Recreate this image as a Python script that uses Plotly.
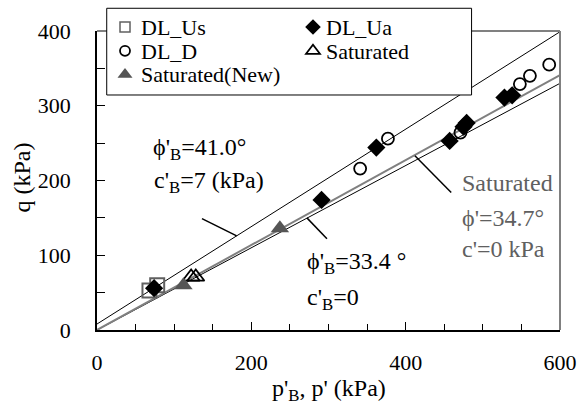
import plotly.graph_objects as go

# ---- data ----
dl_us_p = [68, 78]
dl_us_q = [53, 60]

dl_ua_p = [74, 291, 362, 457, 475, 479, 528, 538]
dl_ua_q = [56, 174, 244, 253, 272, 277, 311, 314]

dl_d_p = [341, 377, 471, 548, 561, 586]
dl_d_q = [216, 256, 264, 329, 340, 355]

sat_p = [122, 128]
sat_q = [71, 71]

satnew_p = [112, 237]
satnew_q = [60, 136]

# fitted lines (end points)
line_p = [0, 600]
fit41_q = [8, 399]        # phi'B=41.0, c'B=7
fit334_q = [0, 330]       # phi'B=33.4, c'B=0
fitsat_q = [0, 341]       # saturated phi'=34.7, c'=0

# leader lines
lead41_p = [136, 181]
lead41_q = [149, 126]
leadsat_p = [412, 459]
leadsat_q = [233, 184]
lead334_p = [272, 298]
lead334_q = [150, 122]

# legend entries per column
leg_col1 = ["DL_Us", "DL_D", "Saturated(New)"]
leg_col2 = ["DL_Ua", "Saturated"]

FONT = "Times New Roman, Liberation Serif, DejaVu Serif, serif"
GRAY = "#808080"
DGRAY = "#606060"

styles = {
    "DL_Us": dict(symbol="square-open", size=14, color=DGRAY, line=dict(width=2, color=DGRAY)),
    "DL_Ua": dict(symbol="diamond", size=14, color="black"),
    "DL_D": dict(symbol="circle-open", size=12, color="black", line=dict(width=1.8, color="black")),
    "Saturated": dict(symbol="triangle-up-open", size=15, color="black", line=dict(width=1.8, color="black")),
    "Saturated(New)": dict(symbol="triangle-up", size=16, color="#555555"),
}
leg_styles = {
    "DL_Us": dict(symbol="square-open", size=10, color=DGRAY, line=dict(width=1.5, color=DGRAY)),
    "DL_Ua": dict(symbol="diamond", size=12, color="black"),
    "DL_D": dict(symbol="circle-open", size=10, color="black", line=dict(width=1.8, color="black")),
    "Saturated": dict(symbol="triangle-up-open", size=12, color="black", line=dict(width=1.8, color="black")),
    "Saturated(New)": dict(symbol="triangle-up", size=13, color="#555555"),
}

fig = go.Figure()

# lines
fig.add_trace(go.Scatter(x=line_p, y=fit41_q, mode="lines", line=dict(color="black", width=1), showlegend=False, hoverinfo="skip"))
fig.add_trace(go.Scatter(x=line_p, y=fit334_q, mode="lines", line=dict(color="black", width=1), showlegend=False, hoverinfo="skip"))
fig.add_trace(go.Scatter(x=line_p, y=fitsat_q, mode="lines", line=dict(color=GRAY, width=2), showlegend=False, hoverinfo="skip"))
for lp, lq in [(lead41_p, lead41_q), (leadsat_p, leadsat_q), (lead334_p, lead334_q)]:
    fig.add_trace(go.Scatter(x=lp, y=lq, mode="lines", line=dict(color="black", width=1.5), showlegend=False, hoverinfo="skip"))

# markers
series = [("DL_Us", dl_us_p, dl_us_q), ("DL_Ua", dl_ua_p, dl_ua_q), ("DL_D", dl_d_p, dl_d_q),
          ("Saturated", sat_p, sat_q), ("Saturated(New)", satnew_p, satnew_q)]
for name, xs, ys in series:
    fig.add_trace(go.Scatter(x=xs, y=ys, mode="markers", name=name, marker=styles[name], showlegend=False))

# legend symbols (plotly legends; names drawn as annotations for tighter spacing)
for lg, names in [("legend", leg_col1), ("legend2", leg_col2)]:
    for name in names:
        fig.add_trace(go.Scatter(x=[None], y=[None], mode="markers", name=" ", legend=lg,
                                 marker=leg_styles[name], showlegend=True, hoverinfo="skip"))

ann = []
leg_text_x = [0.090, 0.491]
leg_text_y = [1.013, 0.933, 0.853]
for col, names in enumerate([leg_col1, leg_col2]):
    for row, name in enumerate(names):
        ann.append(dict(x=leg_text_x[col], y=leg_text_y[row], xref="paper", yref="paper", text=name,
                        showarrow=False, xanchor="left", yanchor="middle",
                        font=dict(family=FONT, size=22, color="black")))

def txt(x, y, s, color="black"):
    ann.append(dict(x=x, y=y, xref="x", yref="y", text=s, showarrow=False, xanchor="left", yanchor="middle",
                    font=dict(family=FONT, size=24, color=color)))

txt(70, 242, "ϕ'<sub>B</sub>=41.0°")
txt(71, 198, "c'<sub>B</sub>=7 (kPa)")
txt(470, 196, "Saturated", DGRAY)
txt(470, 150, "ϕ'=34.7°", DGRAY)
txt(470, 109, "c'=0 kPa", DGRAY)
txt(270, 89, "ϕ'<sub>B</sub>=33.4 °")
txt(270, 41, "c'<sub>B</sub>=0")

ann.append(dict(x=-0.162, y=0.51, xref="paper", yref="paper", text="q (kPa)", textangle=-90, showarrow=False,
                xanchor="center", yanchor="middle", font=dict(family=FONT, size=24, color="black")))
ann.append(dict(x=0.5, y=-0.2, xref="paper", yref="paper", text="p'<sub>B</sub>, p' (kPa)", showarrow=False,
                xanchor="center", yanchor="middle", font=dict(family=FONT, size=24, color="black")))

shapes = [
    dict(type="line", xref="paper", yref="paper", x0=0, x1=1, y0=1, y1=1, line=dict(color=GRAY, width=2), layer="below"),
    dict(type="line", xref="paper", yref="paper", x0=1, x1=1, y0=0, y1=1, line=dict(color=GRAY, width=2), layer="above"),
    dict(type="rect", xref="paper", yref="paper", x0=0.021, x1=0.809, y0=0.786, y1=1.076,
         line=dict(color="black", width=1), fillcolor="white", layer="above"),
]

legcommon = dict(xanchor="left", yanchor="top", bgcolor="rgba(0,0,0,0)", borderwidth=0,
                 font=dict(family=FONT, size=16, color="rgba(0,0,0,0)"), itemwidth=30, tracegroupgap=0,
                 itemclick=False, itemdoubleclick=False)

fig.update_layout(
    width=586, height=405,
    margin=dict(l=97, r=26, t=31, b=75, autoexpand=False),
    paper_bgcolor="white", plot_bgcolor="white",
    font=dict(family=FONT, size=22, color="black"),
    annotations=ann, shapes=shapes,
    showlegend=True,
    legend=dict(x=0.0173, y=1.0699, **legcommon),
    legend2=dict(x=0.4233, y=1.0699, **legcommon),
    xaxis=dict(range=[0, 600], tickvals=[0, 200, 400, 600], ticks="inside", ticklen=8, tickwidth=1,
               tickcolor="black", showline=True, linecolor="black", linewidth=1.5, showgrid=False, zeroline=False,
               minor=dict(dtick=50, ticks="inside", ticklen=6, tickcolor="black", showgrid=False),
               tickfont=dict(family=FONT, size=22), ticklabelstandoff=12),
    yaxis=dict(range=[0, 400], tickvals=[0, 100, 200, 300, 400], ticks="inside", ticklen=8, tickwidth=1,
               tickcolor="black", showline=True, linecolor="black", linewidth=1.5, showgrid=False, zeroline=False,
               minor=dict(dtick=50, ticks="inside", ticklen=8, tickcolor="black", showgrid=False),
               tickfont=dict(family=FONT, size=22), ticklabelstandoff=20),
)

fig.write_html("out.html")
